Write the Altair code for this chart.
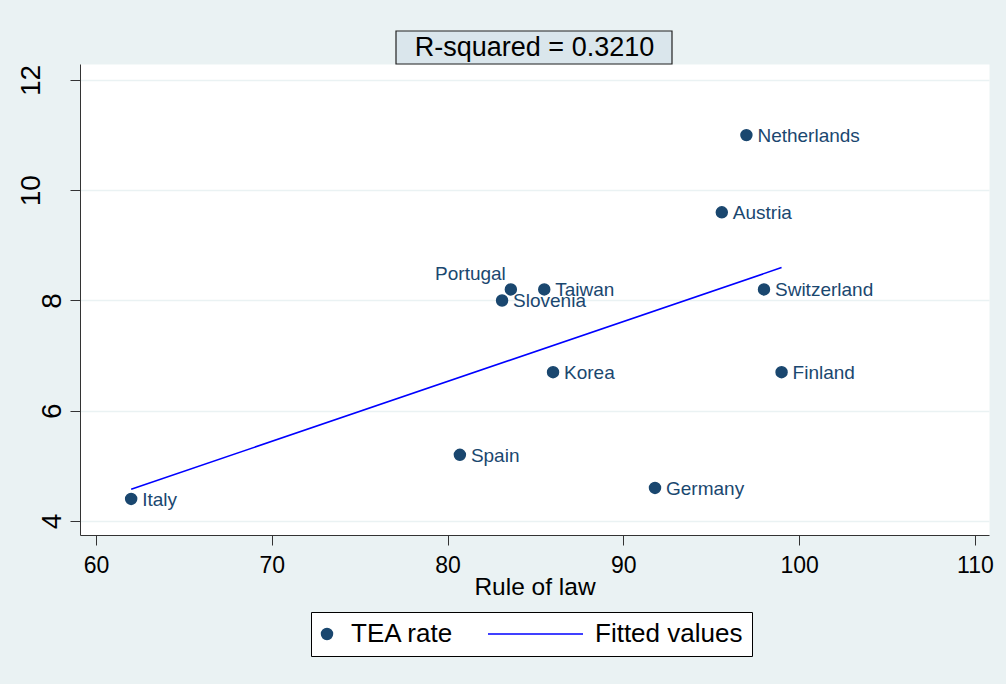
import altair as alt
import pandas as pd

# Entrepreneurial activity (TEA rate) against the rule-of-law index
countries = ["Netherlands", "Austria", "Switzerland", "Finland", "Portugal", "Taiwan",
             "Slovenia", "Korea", "Spain", "Germany", "Italy"]
rule_of_law = [97.0, 95.6, 98.0, 99.0, 83.6, 85.5, 83.1, 86.0, 80.7, 91.8, 62.0]
tea_rate = [11.0, 9.6, 8.2, 6.7, 8.2, 8.2, 8.0, 6.7, 5.2, 4.6, 4.4]

series_names = ["TEA rate", "Fitted values"]
series_colors = ["#1a476f", "#0000ff"]
x_ticks = [60, 70, 80, 90, 100, 110]
y_ticks = [4, 6, 8, 10, 12]
fit_note = ["R-squared = 0.3210"]

FONT = "Liberation Sans, Arial, Helvetica, sans-serif"
BG = "#EAF2F3"
INK = "#1a476f"

df = pd.DataFrame({
    "country": countries,
    "rule": rule_of_law,
    "tea": tea_rate,
    "series": [series_names[0]] * len(countries),
})
note_df = pd.DataFrame({"note": fit_note})

x_enc = alt.X(
    "rule:Q",
    scale=alt.Scale(domain=[59.09, 110.8], nice=False, zero=False),
    axis=alt.Axis(
        values=x_ticks, title="Rule of law", grid=False,
        labelFont=FONT, labelFontSize=23, labelColor="black", labelPadding=9,
        labelFlush=False, labelOverlap=False,
        tickSize=10, tickColor="#333333", domainColor="#333333",
        titleFont=FONT, titleFontSize=24.5, titleFontWeight="normal", titleColor="black",
        titleY=40.5, titleBaseline="top",
    ),
)
y_enc = alt.Y(
    "tea:Q",
    scale=alt.Scale(domain=[3.746, 12.29], nice=False, zero=False),
    axis=alt.Axis(
        values=y_ticks, title="", grid=True, gridColor=BG, gridWidth=1.6,
        labelFont=FONT, labelFontSize=28, labelColor="black",
        labelAngle=270, labelAlign="center", labelBaseline="alphabetic",
        labelPadding={"condition": {"test": "datum.value >= 10", "value": 31}, "value": 10},
        labelOverlap=False, labelFlush=False,
        tickSize=10, tickColor="#333333", domainColor="#333333",
    ),
)

# one boxed legend: a dot for the observations, a stroke for the fitted line
legend = alt.Legend(
    title="", orient="none", legendX=231, legendY=548, direction="horizontal",
    fillColor="white", strokeColor="black", padding=9,
    labelFont=FONT, labelFontSize=26, labelColor="black",
    symbolOffset=-6, labelOffset=11, columnPadding=34, clipHeight=26,
)

base = alt.Chart(df)

points = base.mark_point(filled=True, opacity=1, strokeWidth=1.5).encode(
    x=x_enc,
    y=y_enc,
    color=alt.Color("series:N", scale=alt.Scale(domain=series_names, range=series_colors), legend=legend),
    stroke=alt.Stroke("series:N", scale=alt.Scale(domain=series_names, range=series_colors), legend=legend),
    shape=alt.Shape("series:N", scale=alt.Scale(domain=series_names, range=["circle", "stroke"]), legend=legend),
    size=alt.Size("series:N", scale=alt.Scale(domain=series_names, range=[120, 10000]), legend=legend),
)

labels = base.transform_filter("datum.country != 'Portugal'").mark_text(
    align="left", baseline="middle", dx=11, dy=1, font=FONT, fontSize=19, color=INK
).encode(x="rule:Q", y="tea:Q", text="country:N")

labels_above = base.transform_filter("datum.country == 'Portugal'").mark_text(
    align="right", baseline="middle", dx=-5, dy=-15, font=FONT, fontSize=19, color=INK
).encode(x="rule:Q", y="tea:Q", text="country:N")

fit = base.transform_regression("rule", "tea").mark_line(
    color=series_colors[1], strokeWidth=1.6
).encode(x="rule:Q", y="tea:Q")

note_box = alt.Chart(note_df).mark_rect(
    fill="#DAE6EC", stroke="#222222", strokeWidth=1.2
).encode(x=alt.value(316), x2=alt.value(592), y=alt.value(-33), y2=alt.value(0))

note_text = alt.Chart(note_df).mark_text(
    align="center", baseline="middle", font=FONT, fontSize=27, color="black"
).encode(x=alt.value(454.5), y=alt.value(-16), text="note:N")

chart = alt.layer(
    points, labels, labels_above, fit, note_box, note_text
).properties(
    width=909,
    height=471,
    padding={"left": 80, "top": 64, "right": 17, "bottom": 149},
    autosize=alt.AutoSizeParams(type="none"),
    background=BG,
).configure_view(fill="white", stroke="transparent")

chart.save("out.html", embed_options={"renderer": "svg", "actions": False})
